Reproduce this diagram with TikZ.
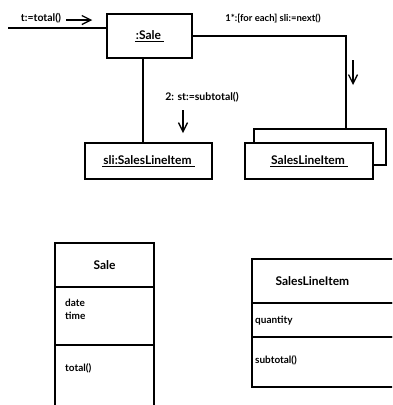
\documentclass[tikz,border=0pt]{standalone}
\usepackage{fontspec}
\setmainfont{Lato}
\usetikzlibrary{positioning,arrows.meta}
\tikzstyle{obj} = [rectangle, minimum width=85pt, minimum height=44pt, text centered, draw=black,
     line width=1.3pt, font=\bfseries\fontsize{12}{14}\selectfont]
\tikzstyle{cls} = [rectangle, minimum width=99pt, outer sep=0pt, text centered, draw=black,
     line width=1.3pt, font=\bfseries\fontsize{12}{14}\selectfont]
\tikzstyle{attr} = [inner sep=0pt, align=left, font=\bfseries\fontsize{10}{13}\selectfont]
\tikzstyle{msg} = [inner sep=1pt, font=\bfseries\fontsize{10.5}{12}\selectfont]
\tikzstyle{link} = [draw, line width=1.3pt]
\tikzstyle{msgarrow} = [draw, line width=1.3pt, -{Straight Barb[length=9pt,width=9pt]}]

% underlined object name, rule a bit wider than the text
\newcommand{\objname}[1]{\underline{\hspace{1pt}#1\hspace{3pt}}}

\begin{document}
\begin{tikzpicture}[x=1pt,y=-1pt]
\clip (0,0) rectangle (392,405);

% collaboration: objects
\node (sale) [obj] at (149.5,36) {\objname{:Sale}};
\node (sli) [obj, minimum width=127pt, minimum height=36pt] at (148.5,161) {\objname{sli:SalesLineItem}};
\node (multiback) [obj, minimum width=132pt, minimum height=36pt] at (320,147) {};
\node (multi) [obj, fill=white, minimum width=128pt, minimum height=36pt] at (309,161) {\objname{SalesLineItem}};

% links
\coordinate (start) at (8,28);
\draw [link] (start) -- (start -| sale.west);
\coordinate (bend) at (346,36);
\draw [link] (sale.east) -- (bend) -- (bend |- multiback.north);
\coordinate (down) at ([xshift=-6.5pt]sale.south);
\draw [link] (down) -- (down |- sli.north);

% messages
\node (msg1) [msg] at (41,18) {t:=total()};
\draw [msgarrow] ([xshift=4pt,yshift=-2pt]msg1.east) -- ++(26,0);
\node (msg2) [msg, font=\bfseries\fontsize{9.5}{11}\selectfont] at (273,19) {1*:[for each] sli:=next()};
\draw [msgarrow] ([xshift=7pt,yshift=-24pt]bend) -- ++(0,25);
\node (msg3) [msg] at (202,97) {2: st:=subtotal()};
\coordinate (arr3) at (183,110);
\draw [msgarrow] (arr3) -- ++(0,23);

% class Sale
\node (saleName) [cls, minimum height=44pt] at (104.5,265) {Sale};
\node (saleAttr) [cls, minimum height=58pt, below=0pt of saleName] {};
\node (saleOps) [cls, minimum height=80pt, below=0pt of saleAttr] {};
\node (saleDate) [attr, below right=12pt and 10pt of saleAttr.north west] {date\\time};
\node (saleTotal) [attr, below right=18pt and 10pt of saleOps.north west] {total()};

% class SalesLineItem
\node (sliName) [cls, minimum width=153pt, minimum height=44pt] at (328.5,281) {};
\node (sliAttr) [cls, minimum width=153pt, minimum height=34pt, below=0pt of sliName] {};
\node (sliOps) [cls, minimum width=153pt, minimum height=50pt, below=0pt of sliAttr] {};
\node (sliTitle) [right=20pt of sliName.west, font=\bfseries\fontsize{12}{14}\selectfont] {SalesLineItem};
\node (sliQty) [attr, below right=13pt and 3pt of sliAttr.north west] {quantity};
\node (sliSub) [attr, below right=18pt and 3pt of sliOps.north west] {subtotal()};

\end{tikzpicture}
\end{document}
